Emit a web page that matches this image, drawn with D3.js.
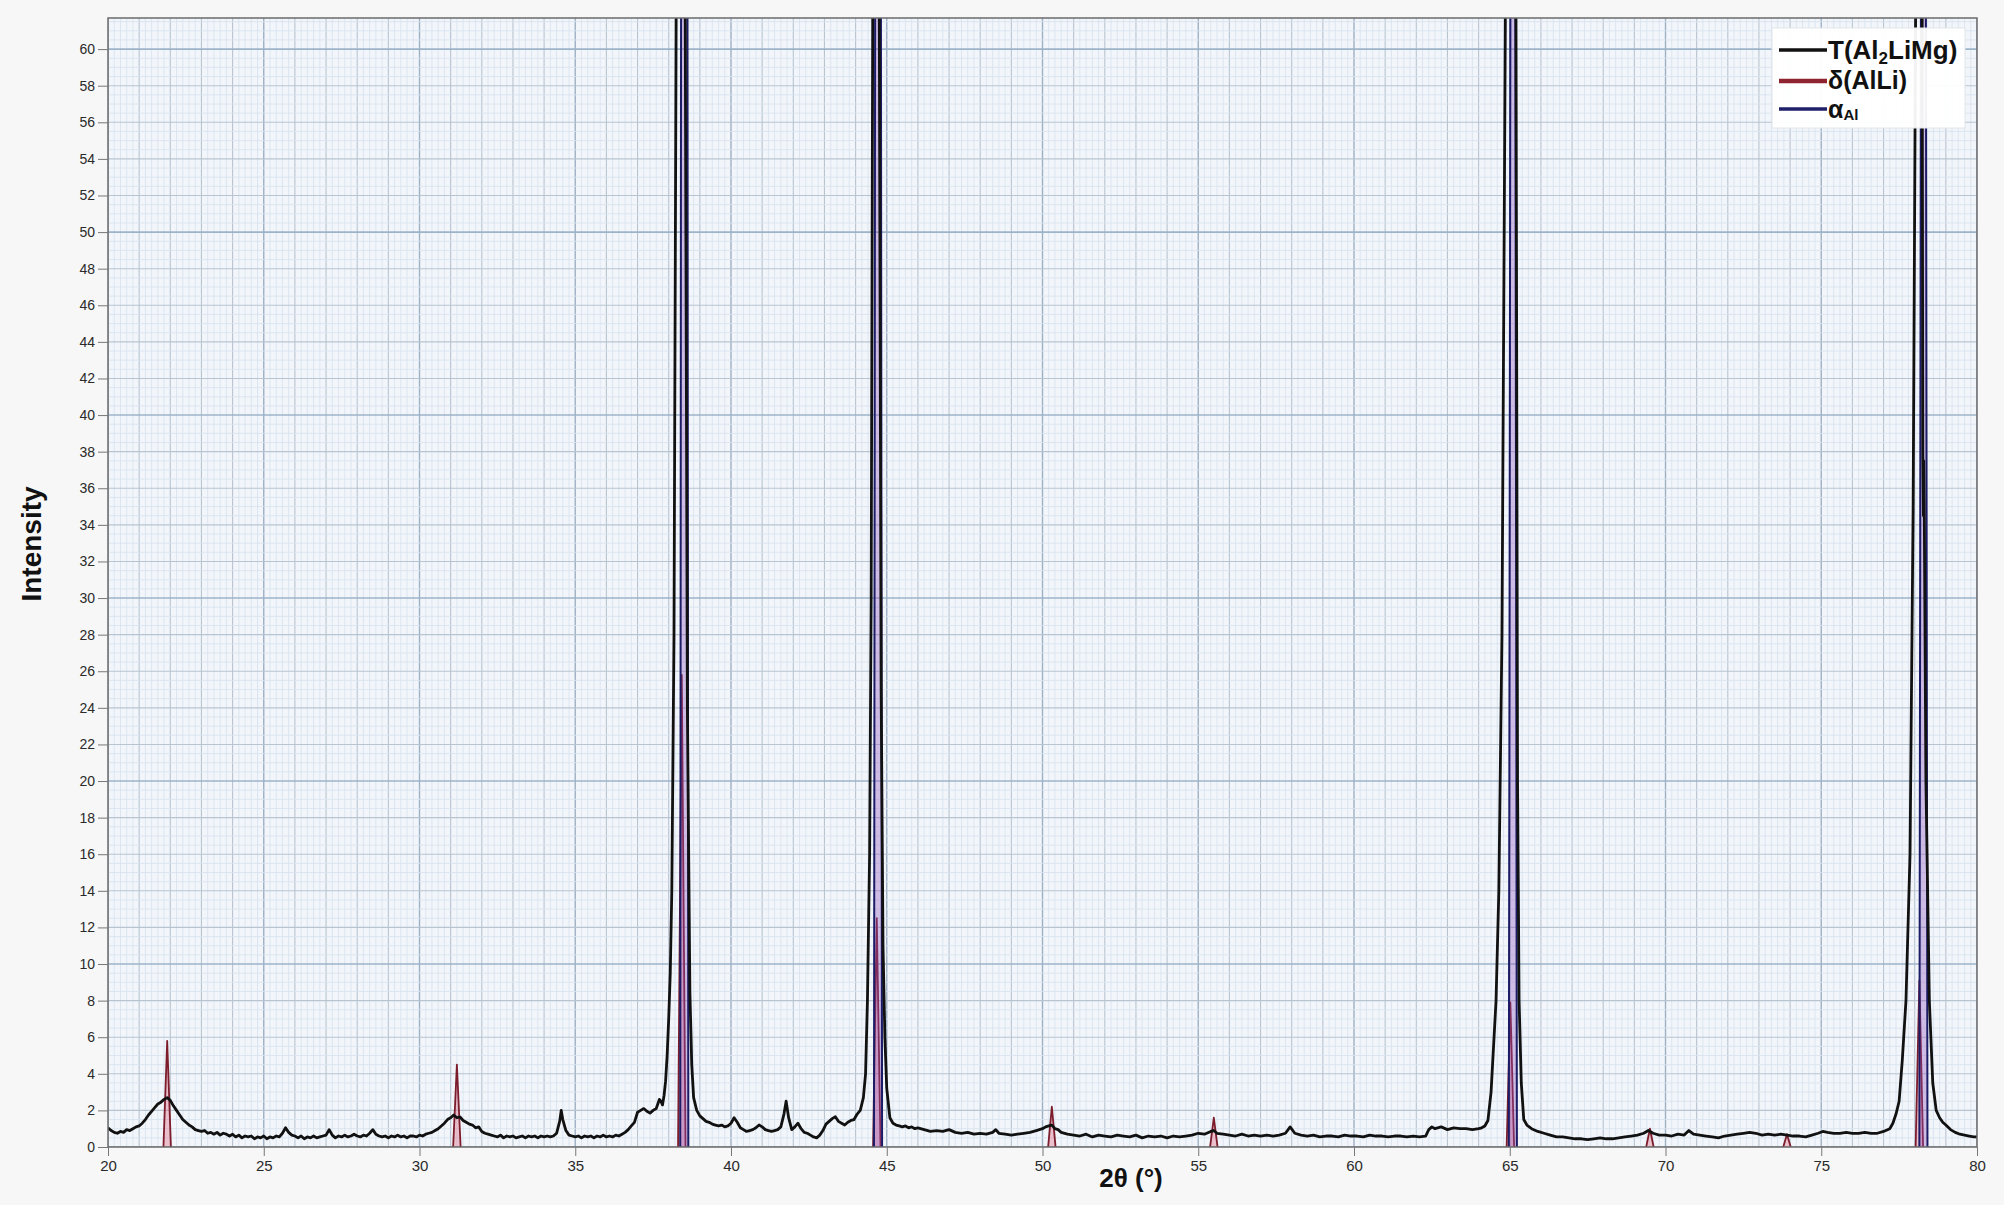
<!DOCTYPE html>
<html><head><meta charset="utf-8">
<script src="https://cdn.jsdelivr.net/npm/d3@7"></script>
<style>
html,body{margin:0;padding:0;background:#f7f7f7;}
svg{display:block;}
text{font-family:"Liberation Sans",Arial,sans-serif;}
</style>
</head><body>
<svg id="chart" width="2004" height="1205"></svg>
<script>
// ---------- DATA ----------
const xTickValues = [20,25,30,35,40,45,50,55,60,65,70,75,80];
const yTickValues = [0,2,4,6,8,10,12,14,16,18,20,22,24,26,28,30,32,34,36,38,40,42,44,46,48,50,52,54,56,58,60];

// measured diffraction pattern [2theta, intensity]
const pattern = [
[20.0,1.05],[20.1,0.9],[20.2,0.8],[20.3,0.75],[20.4,0.85],[20.5,0.8],[20.6,0.95],[20.7,0.9],[20.8,1.0],[20.9,1.1],
[21.0,1.15],[21.1,1.3],[21.2,1.5],[21.3,1.75],[21.4,1.95],[21.5,2.15],[21.6,2.35],[21.7,2.45],[21.8,2.6],[21.9,2.7],
[22.0,2.55],[22.1,2.25],[22.2,2.0],[22.3,1.75],[22.4,1.5],[22.5,1.35],[22.6,1.2],[22.7,1.1],[22.8,0.95],[22.9,0.9],
[23.0,0.85],[23.1,0.9],[23.2,0.75],[23.3,0.8],[23.4,0.7],[23.5,0.8],[23.6,0.65],[23.7,0.75],[23.8,0.7],[23.9,0.6],
[24.0,0.7],[24.1,0.55],[24.2,0.65],[24.3,0.5],[24.4,0.6],[24.5,0.55],[24.6,0.6],[24.7,0.45],[24.8,0.55],[24.9,0.5],
[25.0,0.6],[25.1,0.45],[25.2,0.55],[25.3,0.5],[25.4,0.6],[25.5,0.55],[25.6,0.75],[25.7,1.05],[25.8,0.8],[25.9,0.65],
[26.0,0.6],[26.1,0.5],[26.2,0.6],[26.3,0.45],[26.4,0.55],[26.5,0.5],[26.6,0.6],[26.7,0.5],[26.8,0.55],[26.9,0.6],
[27.0,0.65],[27.1,0.95],[27.2,0.65],[27.3,0.5],[27.4,0.6],[27.5,0.55],[27.6,0.65],[27.7,0.55],[27.8,0.6],[27.9,0.7],
[28.0,0.6],[28.1,0.55],[28.2,0.65],[28.3,0.6],[28.4,0.75],[28.5,0.95],[28.6,0.7],[28.7,0.6],[28.8,0.55],[28.9,0.6],
[29.0,0.5],[29.1,0.6],[29.2,0.55],[29.3,0.65],[29.4,0.55],[29.5,0.6],[29.6,0.5],[29.7,0.6],[29.8,0.6],[29.9,0.55],
[30.0,0.65],[30.1,0.6],[30.2,0.7],[30.3,0.75],[30.4,0.8],[30.5,0.9],[30.6,1.0],[30.7,1.15],[30.8,1.3],[30.9,1.5],
[31.0,1.6],[31.1,1.75],[31.2,1.6],[31.3,1.65],[31.4,1.45],[31.5,1.35],[31.6,1.25],[31.7,1.2],[31.8,1.05],[31.9,1.1],
[32.0,0.85],[32.1,0.75],[32.2,0.7],[32.3,0.65],[32.4,0.6],[32.5,0.55],[32.6,0.65],[32.7,0.5],[32.8,0.6],[32.9,0.55],
[33.0,0.6],[33.1,0.5],[33.2,0.55],[33.3,0.6],[33.4,0.5],[33.5,0.6],[33.6,0.55],[33.7,0.6],[33.8,0.5],[33.9,0.6],
[34.0,0.55],[34.1,0.6],[34.2,0.55],[34.3,0.6],[34.4,0.75],[34.5,1.4],[34.55,2.0],[34.6,1.5],[34.7,0.9],[34.8,0.65],
[34.9,0.6],[35.0,0.55],[35.1,0.6],[35.2,0.5],[35.3,0.6],[35.4,0.55],[35.5,0.6],[35.6,0.5],[35.7,0.6],[35.8,0.55],
[35.9,0.65],[36.0,0.55],[36.1,0.6],[36.2,0.55],[36.3,0.65],[36.4,0.6],[36.5,0.7],[36.6,0.8],[36.7,0.95],[36.8,1.15],
[36.9,1.35],[37.0,1.9],[37.1,2.0],[37.2,2.1],[37.3,1.95],[37.4,1.85],[37.5,2.0],[37.6,2.1],[37.7,2.6],[37.75,2.5],
[37.8,2.3],[37.85,2.8],[37.9,3.6],[37.95,5],[38.0,7],[38.05,9.5],[38.1,14],[38.17,28],[38.24,62],[38.3,150],
[38.38,320],[38.46,150],[38.53,62],[38.6,24],[38.68,8.5],[38.74,4.5],[38.8,2.7],[38.9,2.0],[39.0,1.7],[39.1,1.55],
[39.2,1.4],[39.3,1.35],[39.4,1.25],[39.5,1.2],[39.6,1.15],[39.7,1.2],[39.8,1.1],[39.9,1.15],[40.0,1.3],[40.1,1.6],
[40.2,1.35],[40.3,1.05],[40.4,0.95],[40.5,0.85],[40.6,0.9],[40.7,0.95],[40.8,1.05],[40.9,1.2],[41.0,1.1],[41.1,0.95],
[41.2,0.9],[41.3,0.85],[41.4,0.9],[41.5,0.95],[41.6,1.1],[41.7,1.8],[41.77,2.5],[41.85,1.6],[41.95,0.95],[42.05,1.1],
[42.15,1.3],[42.25,1.0],[42.35,0.8],[42.45,0.75],[42.55,0.65],[42.65,0.55],[42.75,0.5],[42.85,0.65],[42.95,0.9],[43.05,1.25],
[43.15,1.4],[43.25,1.55],[43.35,1.65],[43.45,1.4],[43.55,1.3],[43.65,1.2],[43.75,1.35],[43.85,1.45],[43.95,1.5],[44.05,1.8],
[44.15,2.0],[44.25,2.7],[44.32,4],[44.38,8],[44.45,16],[44.5,30],[44.55,62],[44.65,250],[44.76,62],[44.82,25],
[44.88,11],[44.94,6],[45.0,3.2],[45.1,1.6],[45.2,1.3],[45.3,1.2],[45.4,1.15],[45.5,1.1],[45.6,1.15],[45.7,1.05],
[45.8,1.1],[45.9,1.0],[46.0,1.05],[46.2,0.95],[46.4,0.85],[46.6,0.9],[46.8,0.85],[47.0,0.95],[47.2,0.8],[47.4,0.75],
[47.6,0.8],[47.8,0.7],[48.0,0.75],[48.2,0.7],[48.4,0.8],[48.5,0.95],[48.6,0.75],[48.8,0.7],[49.0,0.65],[49.2,0.7],
[49.4,0.75],[49.6,0.8],[49.8,0.9],[50.0,1.0],[50.1,1.1],[50.2,1.15],[50.3,1.2],[50.4,1.0],[50.5,0.95],[50.6,0.8],
[50.8,0.7],[51.0,0.65],[51.2,0.6],[51.4,0.7],[51.6,0.55],[51.8,0.65],[52.0,0.6],[52.2,0.55],[52.4,0.65],[52.6,0.6],
[52.8,0.55],[53.0,0.65],[53.2,0.5],[53.4,0.6],[53.6,0.55],[53.8,0.6],[54.0,0.5],[54.2,0.6],[54.4,0.55],[54.6,0.6],
[54.8,0.65],[55.0,0.75],[55.2,0.7],[55.4,0.85],[55.5,0.9],[55.6,0.75],[55.8,0.7],[56.0,0.65],[56.2,0.6],[56.4,0.7],
[56.6,0.6],[56.8,0.65],[57.0,0.6],[57.2,0.65],[57.4,0.6],[57.6,0.65],[57.8,0.75],[57.95,1.1],[58.1,0.75],[58.3,0.65],
[58.5,0.6],[58.7,0.65],[58.9,0.55],[59.1,0.6],[59.3,0.6],[59.5,0.55],[59.7,0.65],[59.9,0.6],[60.1,0.6],[60.3,0.55],
[60.5,0.65],[60.7,0.6],[60.9,0.6],[61.1,0.55],[61.3,0.6],[61.5,0.6],[61.7,0.55],[61.9,0.6],[62.1,0.55],[62.3,0.6],
[62.4,0.95],[62.5,1.1],[62.6,1.0],[62.8,1.1],[63.0,0.95],[63.2,1.05],[63.4,1.0],[63.6,1.0],[63.8,0.95],[64.0,1.0],
[64.1,1.05],[64.2,1.15],[64.3,1.45],[64.4,3],[64.48,5.5],[64.56,8],[64.65,14],[64.75,28],[64.86,62],[65.0,250],
[65.2,62],[65.25,20],[65.3,8],[65.37,3.5],[65.45,1.5],[65.55,1.2],[65.7,1.0],[65.9,0.85],[66.1,0.75],[66.3,0.65],
[66.5,0.55],[66.7,0.55],[66.9,0.5],[67.1,0.45],[67.3,0.45],[67.5,0.4],[67.7,0.45],[67.9,0.5],[68.1,0.45],[68.3,0.45],
[68.5,0.5],[68.7,0.55],[68.9,0.6],[69.1,0.65],[69.3,0.75],[69.45,0.9],[69.6,0.75],[69.8,0.65],[70.0,0.65],[70.2,0.6],
[70.4,0.7],[70.6,0.65],[70.75,0.9],[70.9,0.7],[71.1,0.65],[71.3,0.6],[71.5,0.55],[71.7,0.5],[71.9,0.6],[72.1,0.65],
[72.3,0.7],[72.5,0.75],[72.7,0.8],[72.9,0.75],[73.1,0.65],[73.3,0.7],[73.5,0.65],[73.7,0.7],[73.9,0.65],[74.1,0.6],
[74.3,0.6],[74.5,0.55],[74.7,0.65],[74.9,0.75],[75.05,0.85],[75.2,0.8],[75.4,0.75],[75.6,0.75],[75.8,0.8],[76.0,0.75],
[76.2,0.75],[76.4,0.8],[76.6,0.75],[76.8,0.75],[77.0,0.85],[77.2,1.0],[77.3,1.3],[77.4,1.8],[77.5,2.5],[77.6,4.7],
[77.72,8],[77.85,16],[77.95,35],[78.03,62],[78.15,220],[78.24,62],[78.26,38],[78.28,34.5],[78.29,37.5],[78.31,34],
[78.36,20],[78.47,8],[78.58,3.5],[78.69,2.0],[78.8,1.6],[78.9,1.35],[79.0,1.2],[79.15,0.95],[79.3,0.8],[79.45,0.7],
[79.6,0.65],[79.75,0.6],[79.9,0.55],[80.0,0.55]
];

// δ(AlLi) reference peaks
const deltaPos = [21.9, 31.2, 38.42, 44.68, 50.3, 55.5, 65.02, 69.5, 73.9, 78.15];
const deltaInt = [5.8, 4.5, 25.8, 12.5, 2.2, 1.6, 7.9, 1.0, 0.7, 9.1];
// α-Al reference peaks (off scale)
const alphaPos = [38.5, 44.72, 65.1, 78.28];
const alphaInt = [300, 220, 160, 160];

const legendLabels = ["T(Al2LiMg)", "δ(AlLi)", "αAl"];

// ---------- CHART ----------
const svg = d3.select("#chart");
const M = {left:108, right:1977, top:18, bottom:1147};
const x = d3.scaleLinear().domain([20,80]).range([M.left, M.right]);
const y = d3.scaleLinear().domain([0,61.7]).range([M.bottom, M.top]);

svg.append("rect").attr("x",0).attr("y",0).attr("width",2004).attr("height",1205).attr("fill","#f7f7f7");

svg.append("defs").append("clipPath").attr("id","plotclip")
  .append("rect").attr("x",M.left).attr("y",M.top).attr("width",M.right-M.left).attr("height",M.bottom-M.top);

svg.append("rect").attr("x",M.left).attr("y",M.top).attr("width",M.right-M.left).attr("height",M.bottom-M.top)
  .attr("fill","#f2f6fb");

const grid = svg.append("g").attr("clip-path","url(#plotclip)");
const xFine = d3.range(0, 301).map(i => 20 + i*0.2);
const yFine = d3.range(0, 124).map(i => i*0.5);
grid.selectAll(".vf").data(xFine).join("line")
  .attr("x1",d=>x(d)).attr("x2",d=>x(d)).attr("y1",M.top).attr("y2",M.bottom)
  .attr("stroke", d => {const r=Math.round(d*10)/10; if (r%5===0) return "#9eb0c3"; if (Number.isInteger(r)) return "#b8c4d0"; return "#d9e3ee";})
  .attr("stroke-width", d => {const r=Math.round(d*10)/10; return r%5===0 ? 1.4 : (Number.isInteger(r)?1.1:0.9);});
grid.selectAll(".hf").data(yFine).join("line")
  .attr("y1",d=>y(d)).attr("y2",d=>y(d)).attr("x1",M.left).attr("x2",M.right)
  .attr("stroke", d => {if (d%10===0) return "#9cb3c8"; if (d%2===0) return "#b8c4d0"; return "#d9e3ee";})
  .attr("stroke-width", d => d%10===0 ? 1.6 : (d%2===0?1.1:0.9));

// reference sticks
const plot = svg.append("g").attr("clip-path","url(#plotclip)");
function stickPath(p, h, w){
  return `M${x(p-w)},${y(0)}L${x(p)},${y(h)}L${x(p+w)},${y(0)}`;
}
const deltaData = deltaPos.map((p,i)=>({p, h:deltaInt[i]}));
const alphaData = alphaPos.map((p,i)=>({p, h:alphaInt[i]}));

plot.selectAll(".delta").data(deltaData).join("path")
  .attr("d", d=>stickPath(d.p, d.h, 0.12))
  .attr("fill","rgba(225,90,120,0.35)")
  .attr("stroke","#7c1d2c").attr("stroke-width",1.8).attr("stroke-linejoin","round");

plot.selectAll(".alpha").data(alphaData).join("path")
  .attr("d", d=>stickPath(d.p, d.h, 0.13))
  .attr("fill","rgba(140,80,190,0.35)")
  .attr("stroke","#1c1c66").attr("stroke-width",2).attr("stroke-linejoin","round");

// pattern
const line = d3.line().x(d=>x(d[0])).y(d=>y(d[1]));
plot.append("path").datum(pattern).attr("d", line)
  .attr("fill","none").attr("stroke","#111").attr("stroke-width",2.8).attr("stroke-linejoin","round");

// border
svg.append("rect").attr("x",M.left).attr("y",M.top).attr("width",M.right-M.left).attr("height",M.bottom-M.top)
  .attr("fill","none").attr("stroke","#6b6b6b").attr("stroke-width",1.5);

// axes
const yAxis = d3.axisLeft(y).tickValues(yTickValues).tickSize(10).tickPadding(3).tickFormat(d3.format("d"));
const gy = svg.append("g").attr("transform",`translate(${M.left},0)`).call(yAxis);
gy.select(".domain").remove();
gy.selectAll("line").attr("stroke","#777");
gy.selectAll("text").attr("font-size","14px").attr("fill","#2a2a2a");

const xAxis = d3.axisBottom(x).tickValues(xTickValues).tickSize(9).tickPadding(4).tickFormat(d3.format("d"));
const gx = svg.append("g").attr("transform",`translate(0,${M.bottom})`).call(xAxis);
gx.select(".domain").remove();
gx.selectAll("line").attr("stroke","#777");
gx.selectAll("text").attr("font-size","15px").attr("fill","#2a2a2a");

// axis titles
svg.append("text").attr("transform","translate(41,544) rotate(-90)")
  .attr("text-anchor","middle").attr("font-size","28px").attr("font-weight","bold").attr("fill","#111")
  .text("Intensity");
svg.append("text").attr("x",1131).attr("y",1187)
  .attr("text-anchor","middle").attr("font-size","26px").attr("font-weight","bold").attr("fill","#111")
  .text("2θ (°)");

// legend
const lg = svg.append("g");
lg.append("rect").attr("x",1772).attr("y",28).attr("width",193).attr("height",100)
  .attr("fill","#ffffff").attr("fill-opacity",0.95).attr("stroke","#e2e6ea").attr("stroke-width",1);
const legendColors = ["#111111","#8e2430","#1f1f6a"];
const legendY = [50, 81, 109];
legendColors.forEach((c,i)=>{
  lg.append("line").attr("x1",1779).attr("x2",1827).attr("y1",legendY[i]).attr("y2",legendY[i])
    .attr("stroke",c).attr("stroke-width", i===1?4.5:3.5);
});
const t1 = lg.append("text").attr("x",1828).attr("y",legendY[0]+9).attr("font-size","26px").attr("font-weight","bold").attr("fill","#111");
t1.append("tspan").text("T(Al");
t1.append("tspan").attr("font-size","17px").attr("dy",5).text("2");
t1.append("tspan").attr("dy",-5).text("LiMg)");
lg.append("text").attr("x",1828).attr("y",legendY[1]+8).attr("font-size","25px").attr("font-weight","bold").attr("fill","#111")
  .text(legendLabels[1]);
const t3 = lg.append("text").attr("x",1828).attr("y",legendY[2]+9).attr("font-size","25px").attr("font-weight","bold").attr("fill","#111");
t3.append("tspan").text("α");
t3.append("tspan").attr("font-size","15px").attr("dy",2).text("Al");
</script>
</body></html>
